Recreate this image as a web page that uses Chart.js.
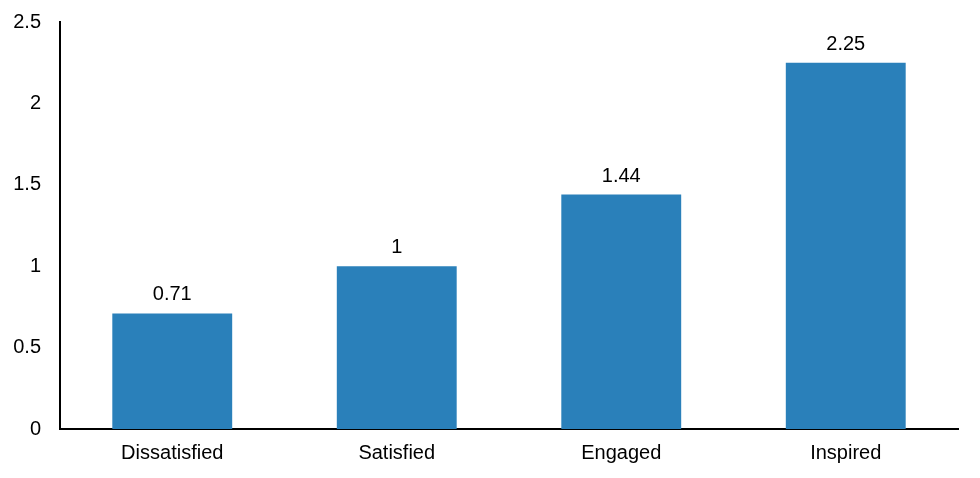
<!DOCTYPE html>
<html>
<head>
<meta charset="utf-8">
<script src="https://cdn.jsdelivr.net/npm/chart.js@4"></script>
<style>
  html, body { margin: 0; padding: 0; background: #fff; }
  #wrap { width: 980px; height: 478px; position: relative; }
</style>
</head>
<body>
<div id="wrap"><canvas id="c"></canvas></div>
<script>
const categories = ['Dissatisfied', 'Satisfied', 'Engaged', 'Inspired'];
const values = [0.71, 1, 1.44, 2.25];
const yTicks = [0, 0.5, 1, 1.5, 2, 2.5];

Chart.defaults.font.family = "'Liberation Sans', Arial, sans-serif";
Chart.defaults.font.size = 20;
Chart.defaults.color = '#000';

// numbers above the bars
const valueLabels = {
  id: 'valueLabels',
  afterDatasetsDraw(chart) {
    const { ctx } = chart, meta = chart.getDatasetMeta(0);
    ctx.save();
    ctx.font = "20px 'Liberation Sans', Arial, sans-serif";
    ctx.fillStyle = '#000'; ctx.textAlign = 'center'; ctx.textBaseline = 'alphabetic';
    meta.data.forEach((bar, i) => ctx.fillText(String(values[i]), bar.x, bar.y - 13));
    ctx.restore();
  },
};

new Chart(document.getElementById('c'), {
  type: 'bar',
  data: {
    labels: categories,
    datasets: [{ data: values, backgroundColor: '#2a80ba', barPercentage: 1, categoryPercentage: 0.534 }],
  },
  options: {
    animation: false, responsive: true, maintainAspectRatio: false,
    layout: { padding: { top: 22, right: 22, bottom: 1, left: 14 } },
    scales: {
      y: {
        min: 0, max: 2.5,
        afterBuildTicks: (s) => { s.ticks = yTicks.map((v) => ({ value: v })); },
        afterFit: (s) => { s.width = 46; s.paddingTop = 0; s.paddingBottom = 0; },
        ticks: { padding: 19, callback: (v) => String(v) },
        grid: { display: false, drawTicks: false },
        border: { display: true, color: '#000', width: 2 },
      },
      x: {
        ticks: { padding: 12 },
        grid: { display: false, drawTicks: false },
        border: { display: true, color: '#000', width: 2 },
      },
    },
    plugins: { legend: { display: false }, tooltip: { enabled: false } },
  },
  plugins: [valueLabels],
});
</script>
</body>
</html>
